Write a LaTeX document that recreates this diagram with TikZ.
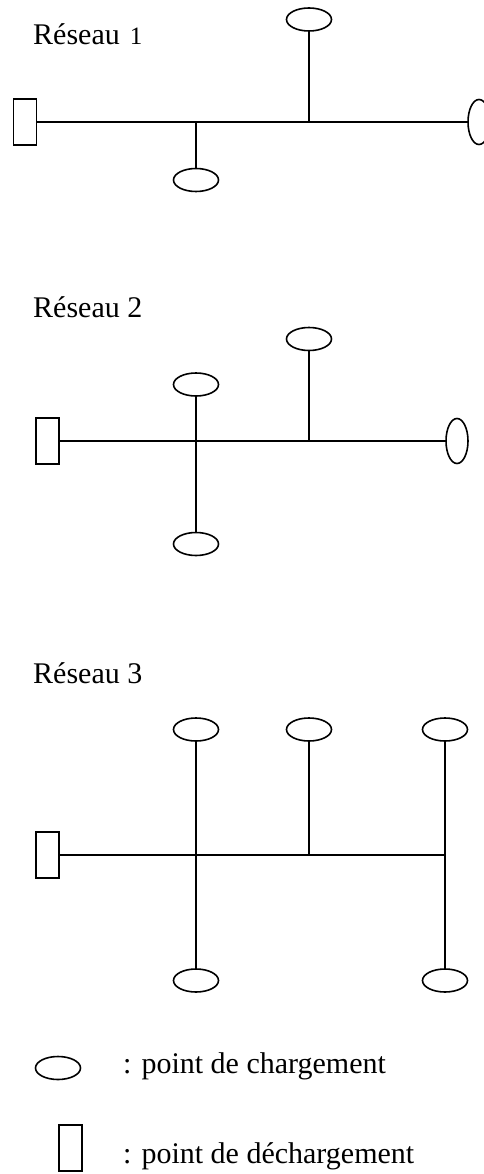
\documentclass[tikz,border=0pt]{standalone}
\usepackage{fontspec}
\setmainfont{Liberation Serif}
\usepackage{tikz}
\usetikzlibrary{shapes.geometric, positioning}

\tikzset{
    charge/.style={draw, ellipse, line width=1.6pt, inner sep=0pt,
        minimum width=45pt, minimum height=23pt},
    chargev/.style={charge, minimum width=22pt, minimum height=45pt},
    decharge/.style={draw, rectangle, line width=1.2pt, inner sep=0pt,
        minimum width=23pt, minimum height=46pt},
    trait/.style={line width=1.7pt},
    titre/.style={anchor=base west, inner sep=0pt, font=\fontsize{30}{36}\selectfont}
}

\begin{document}
\begin{tikzpicture}[x=1pt, y=-1pt]

    \useasboundingbox (0,0) rectangle (483,1174);

    % =================================================================
    % 1. RÉSEAU 1
    % =================================================================
    \node[titre] (t1) at (33,45) {Réseau\hspace{10pt}{\fontsize{25}{28}\selectfont 1}};

    \node[decharge] (r1) at (25,122) {};
    \node[chargev] (c1d) at (479,122) {};
    \node[charge] (c1a) at (196,180) {};
    \node[charge] (c1b) at (309,19.5) {};
    \coordinate (j1a) at (196,122);
    \coordinate (j1b) at (309,122);

    \draw[trait] (r1) -- (c1d);
    \draw[trait] (j1a) -- (c1a);
    \draw[trait] (j1b) -- (c1b);

    % =================================================================
    % 2. RÉSEAU 2
    % =================================================================
    \node[titre] (t2) at (33,317) {Réseau 2};

    \node[decharge] (r2) at (47.5,441) {};
    \node[chargev] (c2d) at (457,441) {};
    \node[charge] (c2h) at (196,384.5) {};
    \node[charge] (c2b) at (196,544) {};
    \node[charge] (c2c) at (309,339) {};
    \coordinate (j2b) at (309,441);

    \draw[trait] (r2) -- (c2d);
    \draw[trait] (c2h) -- (c2b);
    \draw[trait] (j2b) -- (c2c);

    % =================================================================
    % 3. RÉSEAU 3
    % =================================================================
    \node[titre] (t3) at (33,683) {Réseau 3};

    \node[decharge] (r3) at (47.5,855) {};
    \node[charge] (c3a) at (196,729.5) {};
    \node[charge] (c3b) at (309,729.5) {};
    \node[charge] (c3c) at (445,729.5) {};
    \node[charge] (c3d) at (196,980.5) {};
    \node[charge] (c3e) at (445,980.5) {};
    \coordinate (j3b) at (309,855);
    \coordinate (j3c) at (445,855);

    \draw[trait] (r3) -- (j3c);
    \draw[trait] (c3a) -- (c3d);
    \draw[trait] (c3c) -- (c3e);
    \draw[trait] (j3b) -- (c3b);

    % =================================================================
    % 4. LÉGENDE
    % =================================================================
    \node[charge] (lc) at (58,1068) {};
    \node[decharge] (ld) at (70.5,1148) {};
    \node[titre] (tc) at (123,1073) {: point de chargement};
    \node[titre] (td) at (123,1163) {: point de déchargement};

\end{tikzpicture}
\end{document}
